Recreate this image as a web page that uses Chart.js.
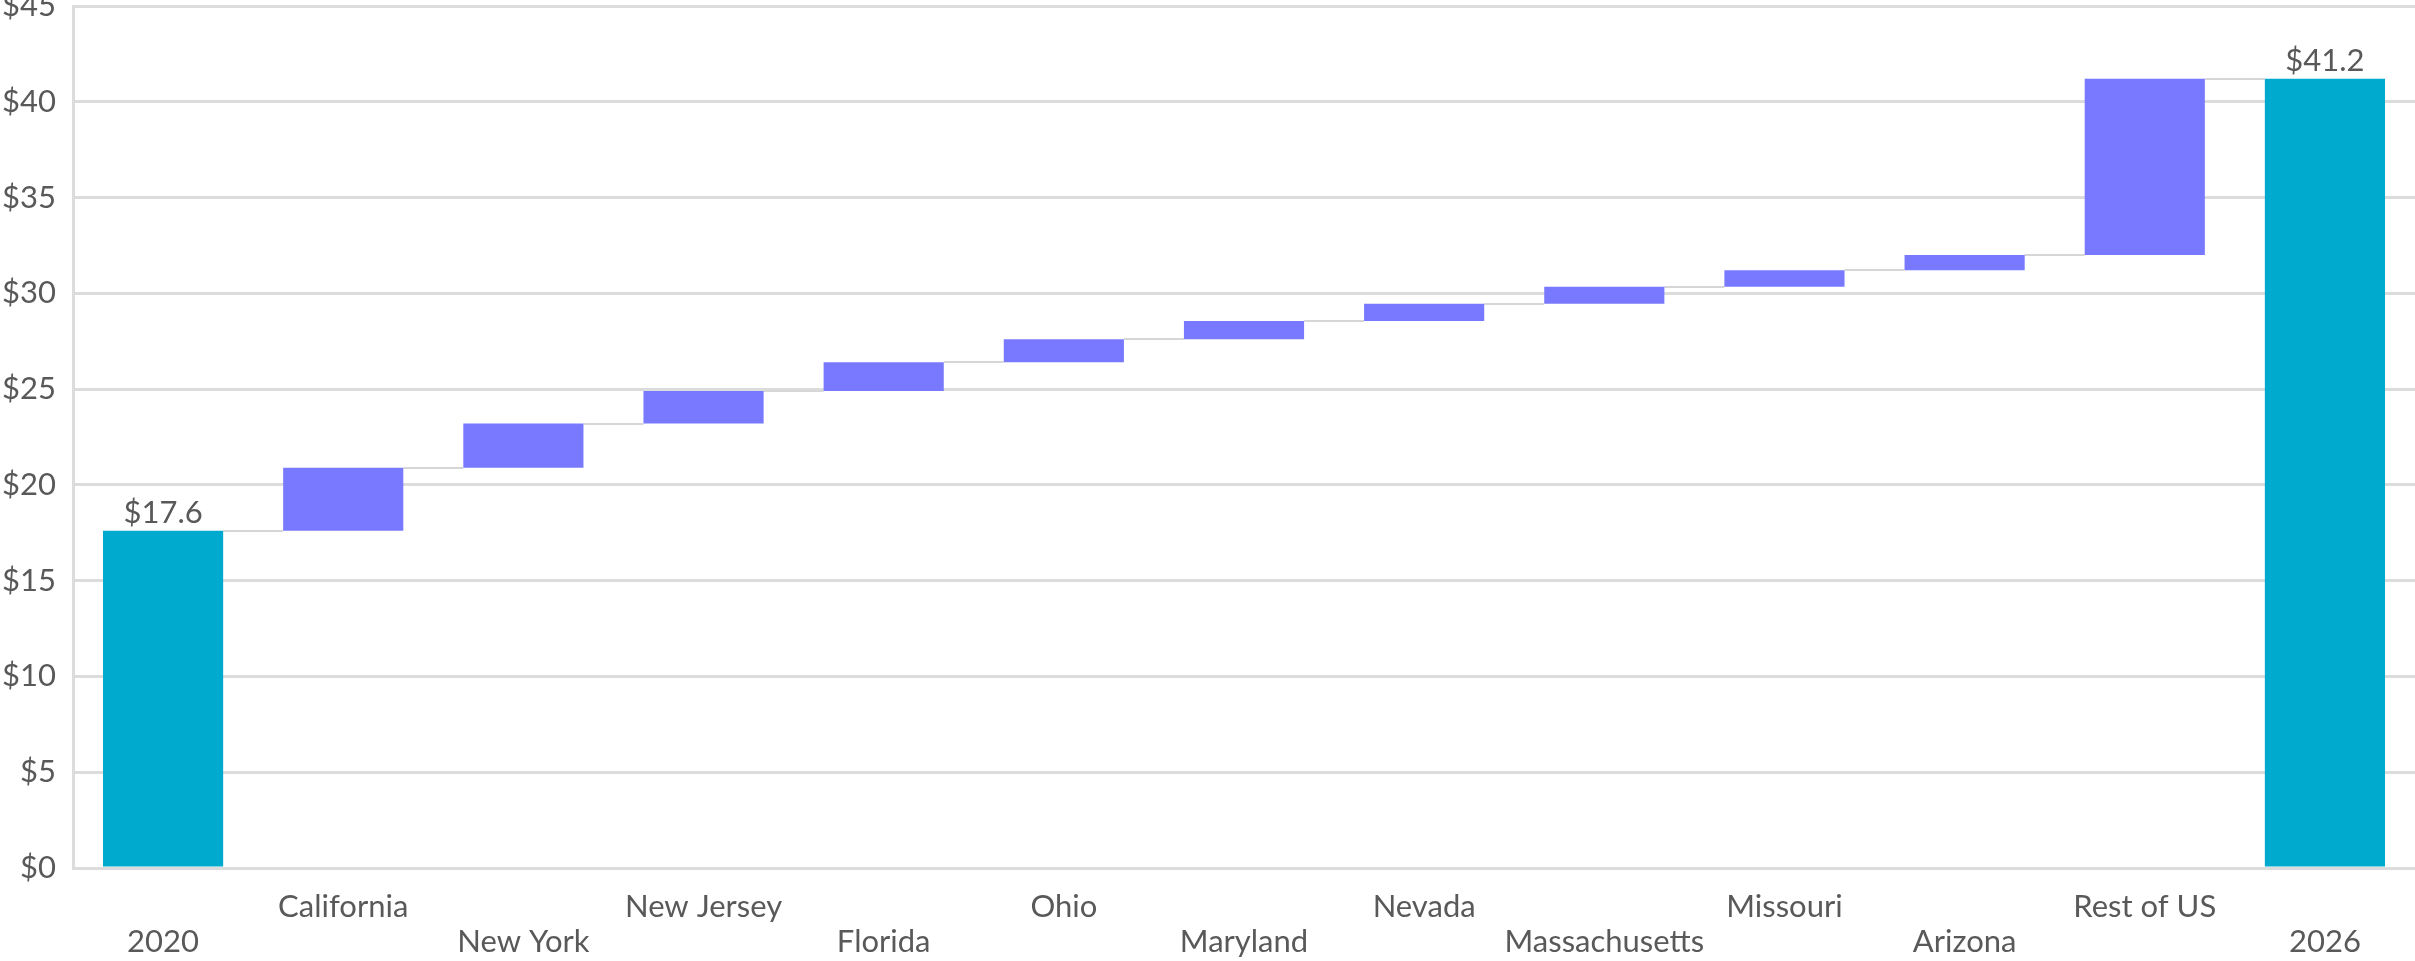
<!DOCTYPE html>
<html>
<head>
<meta charset="utf-8">
<script src="https://cdn.jsdelivr.net/npm/chart.js@4/dist/chart.umd.min.js"></script>
<style>
  html, body { margin: 0; padding: 0; background: #ffffff; overflow: hidden; }
  body { width: 2415px; height: 961px; position: relative; }
  #wrap { position: absolute; left: 0; top: -40px; width: 2415px; height: 1001px; }
</style>
</head>
<body>
<div id="wrap"><canvas id="chart"></canvas></div>
<script>
// Waterfall: 2020 total, state-by-state increases, 2026 total ($ billions)
const categories = ['2020', 'California', 'New York', 'New Jersey', 'Florida', 'Ohio',
  'Maryland', 'Nevada', 'Massachusetts', 'Missouri', 'Arizona', 'Rest of US', '2026'];
const startTotal = 17.6;
const increases = [3.3, 2.3, 1.7, 1.5, 1.2, 0.95, 0.9, 0.9, 0.85, 0.8, 9.2];
const endTotal = 41.2;
const yTicks = [0, 5, 10, 15, 20, 25, 30, 35, 40, 45];

const TOTAL_COLOR = '#00aace';
const CHANGE_COLOR = '#7979ff';
const GRID_COLOR = '#dcdcdc';
const TEXT_COLOR = '#595959';
const FONT = 'Lato, "Liberation Sans", Arial, sans-serif';
const FONT_SIZE = 31;

// Floating bar ranges [low, high] built from the running total
const ranges = [[0, startTotal]];
const isTotal = [true];
let running = startTotal;
increases.forEach(d => {
  ranges.push([running, running + d]);
  isTotal.push(false);
  running += d;
});
ranges.push([0, endTotal]);
isTotal.push(true);

// Level reached at the top of each bar, carried over to the next one
const levels = ranges.map(r => r[1]);

const connectorPlugin = {
  id: 'connectors',
  beforeDatasetsDraw(chart) {
    const meta = chart.getDatasetMeta(0);
    const y = chart.scales.y;
    const ctx = chart.ctx;
    ctx.save();
    ctx.strokeStyle = '#d6d6d6';
    ctx.lineWidth = 2;
    for (let i = 0; i < meta.data.length - 1; i++) {
      const a = meta.data[i], b = meta.data[i + 1];
      const py = Math.round(y.getPixelForValue(levels[i]));
      ctx.beginPath();
      ctx.moveTo(a.x + a.width / 2, py);
      ctx.lineTo(b.x - b.width / 2, py);
      ctx.stroke();
    }
    ctx.restore();
  }
};

const totalLabelPlugin = {
  id: 'totalLabels',
  afterDatasetsDraw(chart) {
    const meta = chart.getDatasetMeta(0);
    const ctx = chart.ctx;
    ctx.save();
    ctx.font = FONT_SIZE + 'px ' + FONT;
    ctx.fillStyle = TEXT_COLOR;
    ctx.textAlign = 'center';
    ctx.textBaseline = 'bottom';
    meta.data.forEach((bar, i) => {
      if (!isTotal[i]) return;
      ctx.fillText('$' + ranges[i][1].toFixed(1), bar.x, bar.y - 2);
    });
    ctx.restore();
  }
};

new Chart(document.getElementById('chart'), {
  type: 'bar',
  data: {
    labels: categories,
    datasets: [{
      data: ranges,
      backgroundColor: isTotal.map(t => t ? TOTAL_COLOR : CHANGE_COLOR),
      borderWidth: 0,
      categoryPercentage: 1.0,
      barPercentage: 0.667
    }]
  },
  options: {
    responsive: true,
    maintainAspectRatio: false,
    animation: false,
    layout: { padding: { top: 46, left: 0, right: 0, bottom: 0 } },
    plugins: {
      legend: { display: false },
      tooltip: { enabled: false },
      title: { display: false }
    },
    scales: {
      x: {
        afterFit: axis => { axis.height = 93; },
        grid: { display: false, drawTicks: false },
        border: { display: true, color: GRID_COLOR, width: 3 },
        ticks: {
          autoSkip: false,
          maxRotation: 0,
          minRotation: 0,
          padding: 21,
          color: TEXT_COLOR,
          font: { family: FONT, size: FONT_SIZE, lineHeight: 35 / FONT_SIZE },
          callback: (v, i) => (i % 2 ? [categories[i], ''] : ['', categories[i]])
        }
      },
      y: {
        min: yTicks[0],
        max: yTicks[yTicks.length - 1],
        afterBuildTicks: axis => { axis.ticks = yTicks.map(v => ({ value: v })); },
        afterFit: axis => { axis.width = 73; },
        grid: { color: GRID_COLOR, lineWidth: 3, drawTicks: false },
        border: { display: true, color: GRID_COLOR, width: 3 },
        ticks: {
          padding: 17,
          color: TEXT_COLOR,
          font: { family: FONT, size: FONT_SIZE },
          callback: v => '$' + v
        }
      }
    }
  },
  plugins: [connectorPlugin, totalLabelPlugin]
});
</script>
</body>
</html>
